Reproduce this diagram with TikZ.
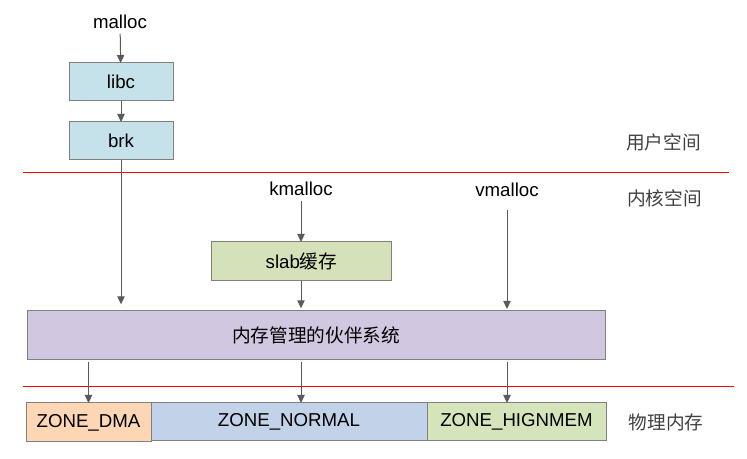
\documentclass[tikz,border=0pt]{standalone}
\usepackage{fontspec}
\setmainfont{Liberation Sans}
\newfontfamily\cjk{Noto Sans CJK SC}
\usetikzlibrary{arrows.meta}

\definecolor{boxline}{RGB}{128,128,128}
\definecolor{arrline}{RGB}{90,90,90}
\definecolor{libcfill}{RGB}{197,225,234}
\definecolor{slabfill}{RGB}{213,225,184}
\definecolor{buddyfill}{RGB}{209,199,224}
\definecolor{dmafill}{RGB}{252,214,181}
\definecolor{normalfill}{RGB}{194,210,232}
\definecolor{highfill}{RGB}{214,228,187}
\definecolor{zhtext}{RGB}{64,64,64}

\tikzset{every picture/.style={line width=0.75pt}}
\tikzset{
	every node/.style={font=\fontsize{14pt}{16pt}\selectfont},
	memblock/.style={draw=boxline, inner sep=0pt, outer sep=0pt},
	flow/.style={draw=arrline, -{Triangle[width=5.5pt,length=6pt]}},
	split/.style={draw=red, line width=0.6pt},
	zhlabel/.style={text=zhtext, font=\fontsize{14pt}{16pt}\selectfont\cjk}
}

\begin{document}
\begin{tikzpicture}[x=0.75pt,y=0.75pt,yscale=-1,xscale=1]
	\useasboundingbox (0,0) rectangle (747,459);

	%Straight Lines [id:user-kernel]
	\draw [split]    (23,172) -- (729,172) ;
	%Straight Lines [id:kernel-phys]
	\draw [split]    (23,386) -- (734,386) ;

	% Text Node
	\draw (120,22) node (malloc)   {malloc};
	%Shape: Rectangle [id:libc]
	\draw (121,82) node [memblock, fill=libcfill, minimum width=78pt, minimum height=28.5pt] (libc)   {libc};
	%Shape: Rectangle [id:brk]
	\draw (121,141) node [memblock, fill=libcfill, minimum width=78pt, minimum height=28.5pt] (brk)   {brk};

	% Text Node
	\draw (301,189) node (kmalloc)   {kmalloc};
	% Text Node
	\draw (507,190) node (vmalloc)   {vmalloc};
	%Shape: Rectangle [id:slab]
	\draw (301.5,261.5) node [memblock, fill=slabfill, minimum width=135pt, minimum height=29.25pt] (slab)   {slab{\cjk 缓存}};
	%Shape: Rectangle [id:buddy]
	\draw (316,335.5) node [memblock, fill=buddyfill, minimum width=433.5pt, minimum height=36.75pt] (buddy)   {\cjk 内存管理的伙伴系统};

	%Shape: Rectangle [id:dma]
	\draw (88.5,422.5) node [memblock, fill=dmafill, minimum width=93.75pt, minimum height=29.25pt] (dma)   {ZONE\_DMA};
	%Shape: Rectangle [id:normal]
	\draw (289,422) node [memblock, fill=normalfill, minimum width=207pt, minimum height=28.5pt] (normal)   {ZONE\_NORMAL};
	%Shape: Rectangle [id:highmem]
	\draw (516.5,422) node [memblock, fill=highfill, minimum width=134.25pt, minimum height=28.5pt] (highmem)   {ZONE\_HIGNMEM};

	% Text Node
	\draw (663.5,142) node [zhlabel] (userspace)   {用户空间};
	% Text Node
	\draw (664.5,198) node [zhlabel] (kernelspace)   {内核空间};
	% Text Node
	\draw (666,422) node [zhlabel] (physmem)   {物理内存};

	%Straight Lines [id:malloc-libc]
	\draw [flow]    (malloc) -- (libc) ;
	%Straight Lines [id:libc-brk]
	\draw [flow]    (libc) -- (brk) ;
	%Straight Lines [id:brk-buddy]
	\draw [flow, shorten >=5pt]    (brk) -- (brk |- buddy.north) ;
	%Straight Lines [id:kmalloc-slab]
	\draw [flow]    (kmalloc) -- (kmalloc |- slab.north) ;
	%Straight Lines [id:slab-buddy]
	\draw [flow, shorten >=2pt]    (kmalloc |- slab.south) -- (kmalloc |- buddy.north) ;
	%Straight Lines [id:vmalloc-buddy]
	\draw [flow, shorten <=6pt, shorten >=1.5pt]    (vmalloc) -- (vmalloc |- buddy.north) ;

	%Straight Lines [id:buddy-dma]
	\draw [flow, shorten <=1.5pt]    (buddy.south -| dma) -- (dma) ;
	%Straight Lines [id:buddy-normal]
	\draw [flow, shorten <=1.5pt]    (buddy.south -| kmalloc) -- (kmalloc |- normal.north) ;
	%Straight Lines [id:buddy-highmem]
	\draw [flow, shorten <=1.5pt]    (buddy.south -| vmalloc) -- (vmalloc |- highmem.north) ;

\end{tikzpicture}
\end{document}
